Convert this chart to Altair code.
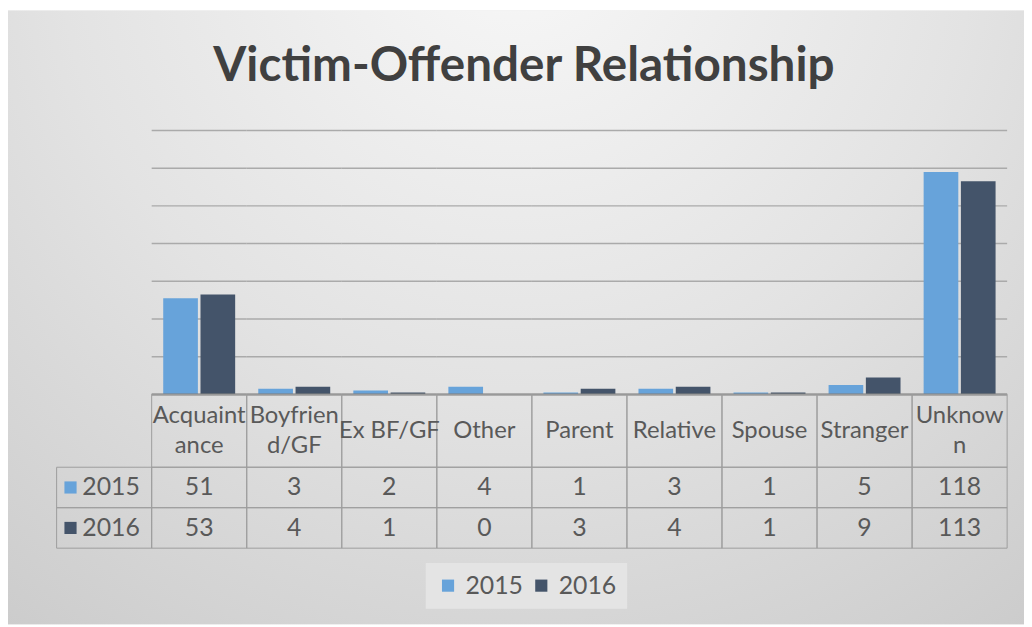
import altair as alt
import pandas as pd

# ---------------- data ----------------
categories = ["Acquaintance", "Boyfriend/GF", "Ex BF/GF", "Other", "Parent",
              "Relative", "Spouse", "Stranger", "Unknown"]
header_labels = ["Acquaint\nance", "Boyfrien\nd/GF", "Ex BF/GF", "Other", "Parent",
                 "Relative", "Spouse", "Stranger", "Unknow\nn"]
years = ["2015", "2016"]
values_2015 = [51, 3, 2, 4, 1, 3, 1, 5, 118]
values_2016 = [53, 4, 1, 0, 3, 4, 1, 9, 113]
grid_values = [20, 40, 60, 80, 100, 120, 140]
title_text = "Victim-Offender Relationship"
colors = ["#67A3DA", "#44546A"]

FONT = "Lato"
TXT = "#595959"
LABEL_COL = " "
x_domain = [LABEL_COL] + categories

# long table of bar values
rows = []
for c, v15, v16 in zip(categories, values_2015, values_2016):
    rows.append({"category": c, "year": "2015", "value": v15})
    rows.append({"category": c, "year": "2016", "value": v16})
df = pd.DataFrame(rows)

# table row geometry (in table units)
row_span = {"header": (0.0, 1.8), "2015": (1.8, 2.8), "2016": (2.8, 3.8)}

cells = []
for c in categories:
    for r in ["header", "2015", "2016"]:
        cells.append({"col": c, "top": row_span[r][0], "bottom": row_span[r][1]})
for r in years:
    cells.append({"col": LABEL_COL, "top": row_span[r][0], "bottom": row_span[r][1]})
cells_df = pd.DataFrame(cells)

header_df = pd.DataFrame({"col": categories, "label": header_labels,
                          "mid": [sum(row_span["header"]) / 2] * len(categories)})
header_df["lines"] = header_df["label"].str.count("\n") + 1
df["mid"] = df["year"].map(lambda y: sum(row_span[y]) / 2)
rowlab_df = pd.DataFrame({"col": [LABEL_COL] * 2, "year": years,
                          "mid": [sum(row_span[y]) / 2 for y in years]})

grid_df = pd.DataFrame([{"category": c, "g": g} for g in grid_values for c in categories])
base_df = pd.DataFrame({"category": categories, "g": [0] * len(categories)})

# ---------------- scales ----------------
xs = alt.Scale(domain=x_domain, range=[49, 1007], paddingInner=0, paddingOuter=0)
ys_bar = alt.Scale(domain=[0, 140], range=[387, 121], nice=False, zero=True)
ys_tab = alt.Scale(domain=[0, 3.8], range=[387, 542], nice=False, zero=False)
cs = alt.Scale(domain=years, range=colors)
legend = alt.Legend(orient="none", legendX=421, legendY=557, direction="horizontal",
                    title=None, symbolType="square", symbolSize=150, symbolStrokeWidth=0,
                    labelFontSize=25, labelFont=FONT, labelColor=TXT,
                    fillColor="#e4e4e4", padding=10, columnPadding=5, labelOffset=5)

# ---------------- background ----------------
gradient = {"gradient": "radial", "x1": 0.5, "y1": 0.12, "x2": 0.5, "y2": 0.12,
            "r1": 0, "r2": 0.9,
            "stops": [{"offset": 0, "color": "#f8f8f8"},
                      {"offset": 0.5, "color": "#e3e3e3"},
                      {"offset": 1, "color": "#c9c9c9"}]}
bg = alt.Chart(alt.Data(values=[{}])).mark_rect(fill=gradient).encode(
    x=alt.value(0), x2=alt.value("width"), y=alt.value(0), y2=alt.value("height"))

# ---------------- bars ----------------
grid = alt.Chart(grid_df).mark_rect(fill=None, stroke="#aaaaaa", strokeWidth=1.5).encode(
    x=alt.X("category:N", scale=xs, axis=None),
    y=alt.Y("g:Q", scale=ys_bar, axis=None), y2="g:Q")

bars = alt.Chart(df).mark_bar().encode(
    x=alt.X("category:N", scale=xs, axis=None),
    xOffset=alt.XOffset("year:N", scale=alt.Scale(domain=years, paddingInner=0.07, paddingOuter=0.31)),
    y=alt.Y("value:Q", scale=ys_bar, axis=None),
    color=alt.Color("year:N", scale=cs, legend=legend))

baseline = alt.Chart(base_df).mark_rect(fill=None, stroke="#7a7a7a", strokeWidth=2).encode(
    x=alt.X("category:N", scale=xs, axis=None),
    y=alt.Y("g:Q", scale=ys_bar, axis=None), y2="g:Q")

bar_group = alt.layer(grid, bars, baseline)

# ---------------- data table ----------------
cell_rects = alt.Chart(cells_df).mark_rect(fill=None, stroke="#9d9d9d", strokeWidth=1).encode(
    x=alt.X("col:N", scale=xs, axis=None),
    y=alt.Y("top:Q", scale=ys_tab, axis=None), y2="bottom:Q")

header_one = alt.Chart(header_df).transform_filter("datum.lines == 1").mark_text(
    font=FONT, fontSize=24, color=TXT, baseline="middle").encode(
    x=alt.X("col:N", scale=xs, axis=None),
    y=alt.Y("mid:Q", scale=ys_tab, axis=None),
    text="label:N")

header_two = alt.Chart(header_df).transform_filter("datum.lines == 2").mark_text(
    font=FONT, fontSize=24, color=TXT, lineBreak="\n", lineHeight=30,
    baseline="middle", dy=-15).encode(
    x=alt.X("col:N", scale=xs, axis=None),
    y=alt.Y("mid:Q", scale=ys_tab, axis=None),
    text="label:N")

value_txt = alt.Chart(df).mark_text(font=FONT, fontSize=25, color=TXT, baseline="middle").encode(
    x=alt.X("category:N", scale=xs, axis=None),
    y=alt.Y("mid:Q", scale=ys_tab, axis=None),
    text="value:Q")

squares = alt.Chart(rowlab_df).mark_point(shape="square", filled=True, size=150, opacity=1).encode(
    x=alt.X("col:N", scale=xs, axis=None),
    xOffset=alt.value(14),
    y=alt.Y("mid:Q", scale=ys_tab, axis=None),
    color=alt.Color("year:N", scale=cs, legend=None))

row_txt = alt.Chart(rowlab_df).mark_text(font=FONT, fontSize=25, color=TXT, align="left",
                                         baseline="middle", dx=-22).encode(
    x=alt.X("col:N", scale=xs, axis=None),
    y=alt.Y("mid:Q", scale=ys_tab, axis=None),
    text="year:N")

table_group = alt.layer(cell_rects, header_one, header_two, value_txt, squares, row_txt)

# ---------------- title ----------------
title = alt.Chart(alt.Data(values=[{"t": title_text}])).mark_text(
    font=FONT, fontSize=48, fontWeight="bold", color="#404040",
    align="center", baseline="alphabetic").encode(
    x=alt.value(520), y=alt.value(71), text="t:N")

chart = alt.layer(bg, bar_group, table_group, title).resolve_scale(y="independent").properties(
    width=1024, height=619, padding=0,
    autosize=alt.AutoSizeParams(type="none"),
).configure_view(stroke=None)

chart.save("out.html", embed_options={"renderer": "svg", "actions": False})
